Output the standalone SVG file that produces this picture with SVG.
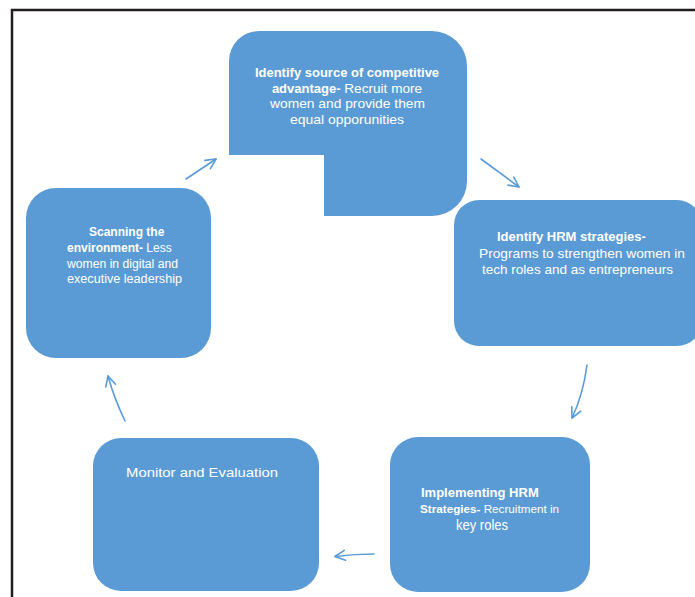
<svg xmlns="http://www.w3.org/2000/svg" width="695" height="597" viewBox="0 0 695 597">
<defs>
<style>
.node{fill:#5B9BD5;}
.t{font-family:"Liberation Sans",Arial,sans-serif;fill:#ffffff;font-size:13px;}
.b{font-weight:bold;}
.conn{fill:none;stroke:#5B9BD5;stroke-width:1.6;stroke-linecap:round;}
.frame{fill:none;stroke:#231f20;stroke-width:2.5;}
</style>
<marker id="arr" viewBox="0 0 12 12" refX="11" refY="6" markerWidth="12" markerHeight="12" markerUnits="userSpaceOnUse" orient="auto">
<path d="M1,1 L11,6 L1,11" fill="none" stroke="#5B9BD5" stroke-width="1.6" stroke-linecap="round" stroke-linejoin="round"/>
</marker>
</defs>
<rect width="695" height="597" fill="#ffffff"/>
<path class="frame" d="M12,597 V10 H697"/>

<g id="node-competitive">
<path class="node" d="M259,31 H432 A35,35 0 0 1 467,66 V181 A35,35 0 0 1 432,216 H324 V155 H229 V61 A30,30 0 0 1 259,31 Z"/>
<text class="t" text-anchor="middle"><tspan class="b" x="347" y="77">Identify source of competitive</tspan><tspan x="347" y="93"><tspan class="b">advantage-</tspan><tspan font-size="13.6"> Recruit more</tspan></tspan><tspan x="347.5" y="108" textLength="155" lengthAdjust="spacingAndGlyphs">women and provide them</tspan><tspan x="347" y="124" textLength="114" lengthAdjust="spacingAndGlyphs">equal opporunities</tspan></text>
</g>

<g id="node-hrm-strategies">
<rect class="node" x="454" y="200" width="248" height="146" rx="25"/>
<text class="t"><tspan class="b" x="497" y="241">Identify HRM strategies-</tspan><tspan x="479" y="258" textLength="206" lengthAdjust="spacingAndGlyphs">Programs to strengthen women in</tspan><tspan x="482" y="274" textLength="191" lengthAdjust="spacingAndGlyphs">tech roles and as entrepreneurs</tspan></text>
</g>

<g id="node-scanning">
<rect class="node" x="26" y="188" width="185" height="170" rx="30"/>
<text class="t" font-size="12"><tspan class="b" x="89" y="236" font-size="12">Scanning the</tspan><tspan x="67" y="252" font-size="12"><tspan class="b">environment-</tspan> Less</tspan><tspan x="67" y="268" font-size="12" textLength="111" lengthAdjust="spacingAndGlyphs">women in digital and</tspan><tspan x="67" y="283" font-size="12" textLength="115" lengthAdjust="spacingAndGlyphs">executive leadership</tspan></text>
</g>

<g id="node-implementing">
<rect class="node" x="390" y="437" width="200" height="155" rx="28"/>
<text class="t"><tspan class="b" x="421" y="497">Implementing HRM</tspan><tspan x="420" y="513" font-size="11.7"><tspan class="b">Strategies-</tspan> Recruitment in</tspan><tspan x="456" y="530" font-size="14" textLength="52" lengthAdjust="spacingAndGlyphs">key roles</tspan></text>
</g>

<g id="node-monitor">
<rect class="node" x="93" y="438" width="226" height="153" rx="28"/>
<text class="t" x="126" y="477" font-size="15.5" textLength="152" lengthAdjust="spacingAndGlyphs">Monitor and Evaluation</text>
</g>

<g id="connectors">
<path class="conn" marker-end="url(#arr)" d="M186,179 L216,159"/>
<path class="conn" marker-end="url(#arr)" d="M481,159 L519,187"/>
<path class="conn" marker-end="url(#arr)" d="M587,365 Q583,395 572,418"/>
<path class="conn" marker-end="url(#arr)" d="M374,554 Q355,554 335,556.5"/>
<path class="conn" marker-end="url(#arr)" d="M125,421 Q114,398 108,376"/>
</g>
</svg>
